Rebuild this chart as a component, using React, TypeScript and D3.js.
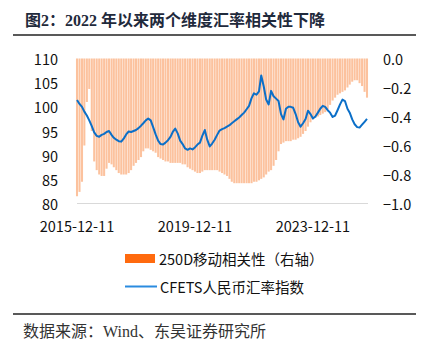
import React from "react";
import * as d3 from "d3";

const startDate = "2015-12-11";
// Monthly 250D rolling correlation (right axis), Dec 2015 -> Oct 2025
const corrValues = [
  -0.95, -0.92, -0.85, -0.6, -0.3, -0.21, -0.5, -0.71, -0.77, -0.8,
  -0.81, -0.81, -0.76, -0.72, -0.73, -0.75, -0.77, -0.79, -0.8, -0.8,
  -0.8, -0.79, -0.77, -0.74, -0.72, -0.7, -0.68, -0.64, -0.62, -0.62,
  -0.63, -0.64, -0.65, -0.68, -0.69, -0.7, -0.71, -0.71, -0.72, -0.72,
  -0.72, -0.72, -0.72, -0.73, -0.73, -0.75, -0.76, -0.77, -0.78, -0.79,
  -0.79, -0.78, -0.77, -0.77, -0.77, -0.77, -0.77, -0.77, -0.78, -0.79,
  -0.8, -0.81, -0.83, -0.85, -0.86, -0.86, -0.86, -0.86, -0.86, -0.86,
  -0.86, -0.86, -0.85, -0.85, -0.84, -0.83, -0.82, -0.8, -0.78, -0.77,
  -0.74, -0.7, -0.64, -0.59, -0.58, -0.57, -0.57, -0.57, -0.56, -0.56,
  -0.55, -0.54, -0.52, -0.5, -0.47, -0.44, -0.42, -0.41, -0.4, -0.39,
  -0.38, -0.37, -0.35, -0.32, -0.29, -0.27, -0.25, -0.24, -0.23, -0.22,
  -0.2, -0.18, -0.16, -0.15, -0.15, -0.17, -0.19, -0.23, -0.27,
];
// Monthly CFETS RMB index (left axis)
const cfetsValues = [
  101.4, 100.6, 100.0, 99.0, 98.2, 97.2, 96.0, 94.7, 94.0, 93.8,
  94.2, 94.4, 94.8, 95.0, 94.2, 93.6, 93.2, 92.9, 92.8, 93.4,
  94.3, 94.9, 94.8, 95.0, 95.2, 95.6, 96.1, 96.6, 97.2, 97.6,
  97.2, 95.8, 94.3, 93.0, 92.3, 92.2, 92.6, 93.1, 93.8, 94.8,
  95.5, 94.5, 93.0, 92.3, 91.4, 91.1, 91.4, 91.2, 91.6, 92.2,
  92.6, 94.0, 95.2, 93.2, 91.8, 92.4, 93.2, 94.2, 95.1, 95.4,
  95.6, 95.9, 96.2, 96.6, 97.0, 97.4, 97.8, 98.3, 98.8, 99.5,
  100.2, 101.8, 102.8, 102.5, 103.2, 106.5, 104.2, 101.5, 100.5, 103.3,
  102.2, 101.7, 101.2, 98.5, 97.4, 99.6, 100.0, 100.0, 99.8, 98.5,
  96.8, 95.9, 96.6, 97.5, 99.2, 98.5, 97.6, 98.0, 98.8, 99.6,
  100.2, 100.0, 99.3, 98.8, 97.9, 98.2, 99.3, 100.5, 101.5, 101.2,
  99.6, 98.8, 97.4, 96.4, 95.8, 95.7, 96.3, 96.9, 97.5,
];
const xTickLabels = ["2015-12-11", "2019-12-11", "2023-12-11"];
const leftTicks = [80, 85, 90, 95, 100, 105, 110];
const rightTicks = [0, -0.2, -0.4, -0.6, -0.8, -1.0];
const legendLabels = ["250D移动相关性（右轴）", "CFETS人民币汇率指数"];
const titleText = "图2：2022 年以来两个维度汇率相关性下降";
const sourceText = "数据来源：Wind、东吴证券研究所";

const parse = d3.timeParse("%Y-%m-%d");

export default function App() {
  const W = 421;
  const H = 344;
  const left = 77;
  const right = 367;
  const top = 58.5;
  const bottom = 203.5;
  const start = parse(startDate)!;
  const dates = corrValues.map((_, i) => d3.timeMonth.offset(start, i));
  const x = d3
    .scaleTime()
    .domain([dates[0], dates[dates.length - 1]])
    .range([left, right]);
  const yL = d3.scaleLinear().domain([80, 110]).range([bottom, top]);
  const yR = d3.scaleLinear().domain([-1, 0]).range([bottom, top]);
  const step = (right - left) / (dates.length - 1);
  const bw = step - 0.4;
  const line = d3
    .line<number>()
    .x((_, i) => x(dates[i]))
    .y((d) => yL(d));
  const sans = "'Noto Sans CJK SC', 'Noto Sans', sans-serif";
  const serif = "'Liberation Serif', 'Noto Sans CJK SC', serif";
  const fmtR = d3.format(".1f");
  return (
    <svg width={W} height={H} style={{ position: "absolute", left: 0, top: 0 }}>
      <rect width={W} height={H} fill="#fff" />
      <text x={25} y={26} fontFamily={serif} fontWeight="bold" fontSize={16} fill="#1f2a3c">
        {titleText}
      </text>
      <line x1={13} x2={416} y1={35} y2={35} stroke="#222" strokeWidth={1.6} />
      {corrValues.map((v, i) => (
        <rect
          key={i}
          x={x(dates[i]) - bw / 2}
          y={yR(0)}
          width={bw}
          height={yR(v) - yR(0)}
          fill="#FCC29E"
        />
      ))}
      <line x1={left} x2={right + 1} y1={bottom} y2={bottom} stroke="#d9d9d9" strokeWidth={1} />
      <path d={line(cfetsValues) || ""} fill="none" stroke="#0B6FC8" strokeWidth={2} strokeLinejoin="round" />
      {leftTicks.map((t) => (
        <text key={t} x={58} y={yL(t)} textAnchor="end" dominantBaseline="central" fontFamily={sans} fontSize={14.5} fill="#111">
          {t}
        </text>
      ))}
      {rightTicks.map((t) => (
        <text key={t} x={383} y={yR(t)} textAnchor="start" dominantBaseline="central" fontFamily={sans} fontSize={14.5} fill="#111">
          {fmtR(t)}
        </text>
      ))}
      {xTickLabels.map((l) => (
        <text key={l} x={x(parse(l)!)} y={225} textAnchor="middle" dominantBaseline="central" fontFamily={sans} fontSize={14.5} fill="#111">
          {l}
        </text>
      ))}
      <rect x={125} y={254} width={30} height={9} fill="#FF6A0E" />
      <text x={159} y={258.5} dominantBaseline="central" fontFamily={sans} fontSize={14.5} fill="#111">
        {legendLabels[0]}
      </text>
      <line x1={125} x2={157} y1={286.5} y2={286.5} stroke="#2A8BDF" strokeWidth={2} />
      <text x={160} y={286} dominantBaseline="central" fontFamily={sans} fontSize={14.5} fill="#111">
        {legendLabels[1]}
      </text>
      <line x1={13} x2={416} y1={314} y2={314} stroke="#222" strokeWidth={1.6} />
      <text x={23} y={337} fontFamily={serif} fontSize={16} fill="#333">
        {sourceText}
      </text>
    </svg>
  );
}
